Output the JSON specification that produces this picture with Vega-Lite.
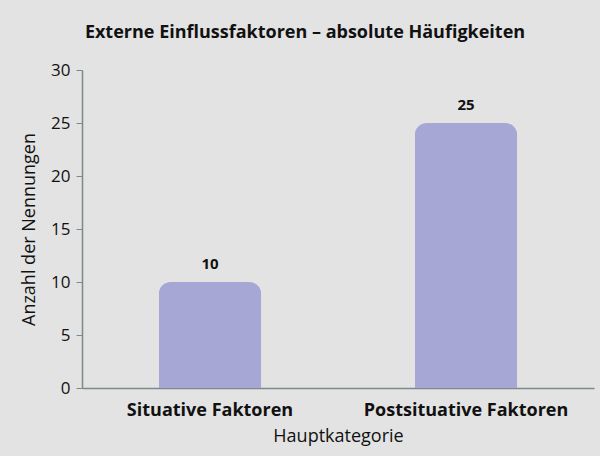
{
  "$schema": "https://vega.github.io/schema/vega-lite/v6.json",
  "width": 512,
  "height": 318,
  "autosize": {"type": "none"},
  "padding": {"left": 82, "top": 70, "right": 6, "bottom": 68},
  "background": "#e3e3e3",
  "title": {
    "text": "Externe Einflussfaktoren – absolute Häufigkeiten",
    "anchor": "middle",
    "frame": "group",
    "dx": -33,
    "offset": 19,
    "font": "Open Sans",
    "fontSize": 18,
    "fontWeight": "bold",
    "color": "#111111"
  },
  "data": {
    "values": [
      {"kategorie": "Situative Faktoren", "anzahl": 10},
      {"kategorie": "Postsituative Faktoren", "anzahl": 25}
    ]
  },
  "encoding": {
    "x": {
      "field": "kategorie",
      "type": "nominal",
      "sort": null,
      "scale": {"paddingInner": 0.6, "paddingOuter": 0.3},
      "axis": {
        "title": "Hauptkategorie",
        "labelAngle": 0,
        "labelLimit": 0,
        "labelFont": "Open Sans",
        "labelFontWeight": "bold",
        "labelFontSize": 18,
        "labelColor": "#111111",
        "labelPadding": 13,
        "ticks": false,
        "domainColor": "#7d8a8c",
        "domainWidth": 1.5,
        "titleFont": "Open Sans",
        "titleFontWeight": "normal",
        "titleFontSize": 18,
        "titleColor": "#111111",
        "titlePadding": 8
      }
    },
    "y": {
      "field": "anzahl",
      "type": "quantitative",
      "scale": {"domain": [0, 30]},
      "axis": {
        "title": "Anzahl der Nennungen",
        "values": [0, 5, 10, 15, 20, 25, 30],
        "grid": false,
        "labelFont": "Open Sans",
        "labelFontSize": 17,
        "labelColor": "#111111",
        "labelPadding": 6,
        "tickSize": 6,
        "tickColor": "#7d8a8c",
        "domainColor": "#7d8a8c",
        "domainWidth": 1.5,
        "titleFont": "Open Sans",
        "titleFontWeight": "normal",
        "titleFontSize": 18,
        "titleColor": "#111111",
        "titlePadding": 12
      }
    }
  },
  "layer": [
    {
      "mark": {"type": "bar", "color": "#a7a7d6", "cornerRadiusTopLeft": 12, "cornerRadiusTopRight": 12}
    },
    {
      "mark": {"type": "text", "dy": -18, "font": "Open Sans", "fontWeight": "bold", "fontSize": 15, "color": "#111111"},
      "encoding": {"text": {"field": "anzahl", "type": "quantitative"}}
    }
  ],
  "config": {"view": {"stroke": null}}
}
